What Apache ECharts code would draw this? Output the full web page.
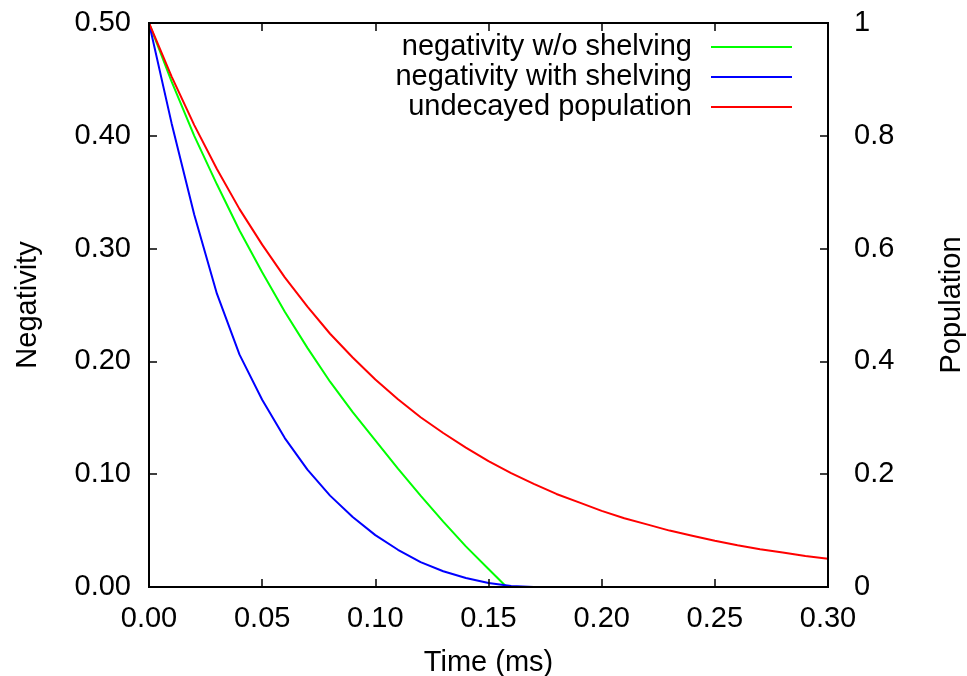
<!DOCTYPE html>
<html>
<head>
<meta charset="utf-8">
<script src="https://cdn.jsdelivr.net/npm/echarts@6/dist/echarts.min.js"></script>
<style>
html,body{margin:0;padding:0;background:#fff;}
#chart{width:967px;height:676px;}
</style>
</head>
<body>
<div id="chart"></div>
<script>
// Time (ms)
const time = [0.00,0.01,0.02,0.03,0.04,0.05,0.06,0.07,0.08,0.09,0.10,0.11,0.12,0.13,0.14,0.15,0.16,0.17,0.18,0.19,0.20,0.21,0.22,0.23,0.24,0.25,0.26,0.27,0.28,0.29,0.30];
// negativity w/o shelving (left axis)
const noShelvingTime = [0.00,0.01,0.02,0.03,0.04,0.05,0.06,0.07,0.08,0.09,0.10,0.11,0.12,0.13,0.14,0.15,0.158,0.17,0.18,0.19,0.20,0.21,0.22,0.23,0.24,0.25,0.26,0.27,0.28,0.29,0.30];
const noShelving = [0.500,0.448,0.400,0.357,0.316,0.279,0.244,0.212,0.182,0.155,0.130,0.105,0.081,0.058,0.036,0.016,0,0,0,0,0,0,0,0,0,0,0,0,0,0,0];
// negativity with shelving (left axis)
const withShelvingTime = [0.00,0.01,0.02,0.03,0.04,0.05,0.06,0.07,0.08,0.09,0.10,0.11,0.12,0.13,0.14,0.15,0.16,0.17,0.18,0.19];
const withShelving = [0.500,0.411,0.330,0.260,0.206,0.166,0.132,0.104,0.081,0.062,0.046,0.033,0.022,0.014,0.008,0.0035,0.0008,0,0,0];
// undecayed population (right axis)
const population = [1.000,0.905,0.819,0.741,0.670,0.607,0.549,0.497,0.449,0.407,0.368,0.333,0.301,0.273,0.247,0.223,0.202,0.183,0.165,0.150,0.135,0.122,0.111,0.100,0.091,0.082,0.074,0.067,0.061,0.055,0.050];

const seriesNames = ['negativity w/o shelving','negativity with shelving','undecayed population'];
const seriesColors = ['#00ff00','#0000ff','#ff0000'];

function pairs(xs, ys){ return xs.map((x,i)=>[x, ys[i]]); }

const FONT = 'Liberation Sans';
const FS = 29;
const chart = echarts.init(document.getElementById('chart'), null, {renderer:'canvas'});
const axisLineStyle = {color:'#000', width:2};
const tickStyle = {color:'#000', width:1.5};
chart.setOption({
  animation:false,
  backgroundColor:'#fff',
  textStyle:{fontFamily:FONT, color:'#000'},
  grid:{left:149, top:23, right:139, bottom:89, containLabel:false, outerBoundsMode:'none',
        show:true, borderColor:'#000', borderWidth:2},
  legend:{
    data:seriesNames,
    orient:'vertical',
    align:'right',
    right:175,
    top:32,
    padding:0,
    itemGap:0,
    itemWidth:81,
    itemHeight:2,
    icon:'rect',
    selectedMode:false,
    textStyle:{fontFamily:FONT, fontSize:FS, color:'#000', lineHeight:30, padding:[0,14,0,0]}
  },
  xAxis:[{
    type:'value', min:0, max:0.3, interval:0.05, position:'bottom',
    name:'Time (ms)', nameLocation:'middle', nameGap:61,
    nameTextStyle:{fontFamily:FONT, fontSize:FS, color:'#000'},
    axisLine:{show:true, onZero:false, lineStyle:axisLineStyle},
    axisTick:{show:true, inside:true, length:8, lineStyle:tickStyle},
    axisLabel:{fontFamily:FONT, fontSize:FS, color:'#000', margin:17, formatter:v=>v.toFixed(2)},
    splitLine:{show:false}, z:5
  },{
    type:'value', min:0, max:0.3, interval:0.05, position:'top',
    axisLine:{show:true, onZero:false, lineStyle:axisLineStyle},
    axisTick:{show:true, inside:true, length:8, lineStyle:tickStyle},
    axisLabel:{show:false}, splitLine:{show:false}, z:5
  }],
  yAxis:[{
    type:'value', min:0, max:0.5, interval:0.1, position:'left',
    name:'Negativity', nameLocation:'middle', nameGap:107, nameRotate:90,
    nameTextStyle:{fontFamily:FONT, fontSize:FS, color:'#000'},
    axisLine:{show:true, onZero:false, lineStyle:axisLineStyle},
    axisTick:{show:true, inside:true, length:8, lineStyle:tickStyle},
    axisLabel:{fontFamily:FONT, fontSize:FS, color:'#000', margin:18, formatter:v=>v.toFixed(2)},
    splitLine:{show:false}, z:5
  },{
    type:'value', min:0, max:1, interval:0.2, position:'right',
    name:'Population', nameLocation:'middle', nameGap:109, nameRotate:90,
    nameTextStyle:{fontFamily:FONT, fontSize:FS, color:'#000'},
    axisLine:{show:true, onZero:false, lineStyle:axisLineStyle},
    axisTick:{show:true, inside:true, length:8, lineStyle:tickStyle},
    axisLabel:{fontFamily:FONT, fontSize:FS, color:'#000', margin:26},
    splitLine:{show:false}, z:5
  }],
  series:[{
    name:seriesNames[0], type:'line', xAxisIndex:0, yAxisIndex:0,
    data:pairs(noShelvingTime, noShelving), showSymbol:false, smooth:false,
    lineStyle:{color:seriesColors[0], width:2}, itemStyle:{color:seriesColors[0]}
  },{
    name:seriesNames[1], type:'line', xAxisIndex:0, yAxisIndex:0,
    data:pairs(withShelvingTime, withShelving), showSymbol:false, smooth:false,
    lineStyle:{color:seriesColors[1], width:2}, itemStyle:{color:seriesColors[1]}
  },{
    name:seriesNames[2], type:'line', xAxisIndex:1, yAxisIndex:1,
    data:pairs(time, population), showSymbol:false, smooth:false,
    lineStyle:{color:seriesColors[2], width:2}, itemStyle:{color:seriesColors[2]}
  }]
});
</script>
</body>
</html>
